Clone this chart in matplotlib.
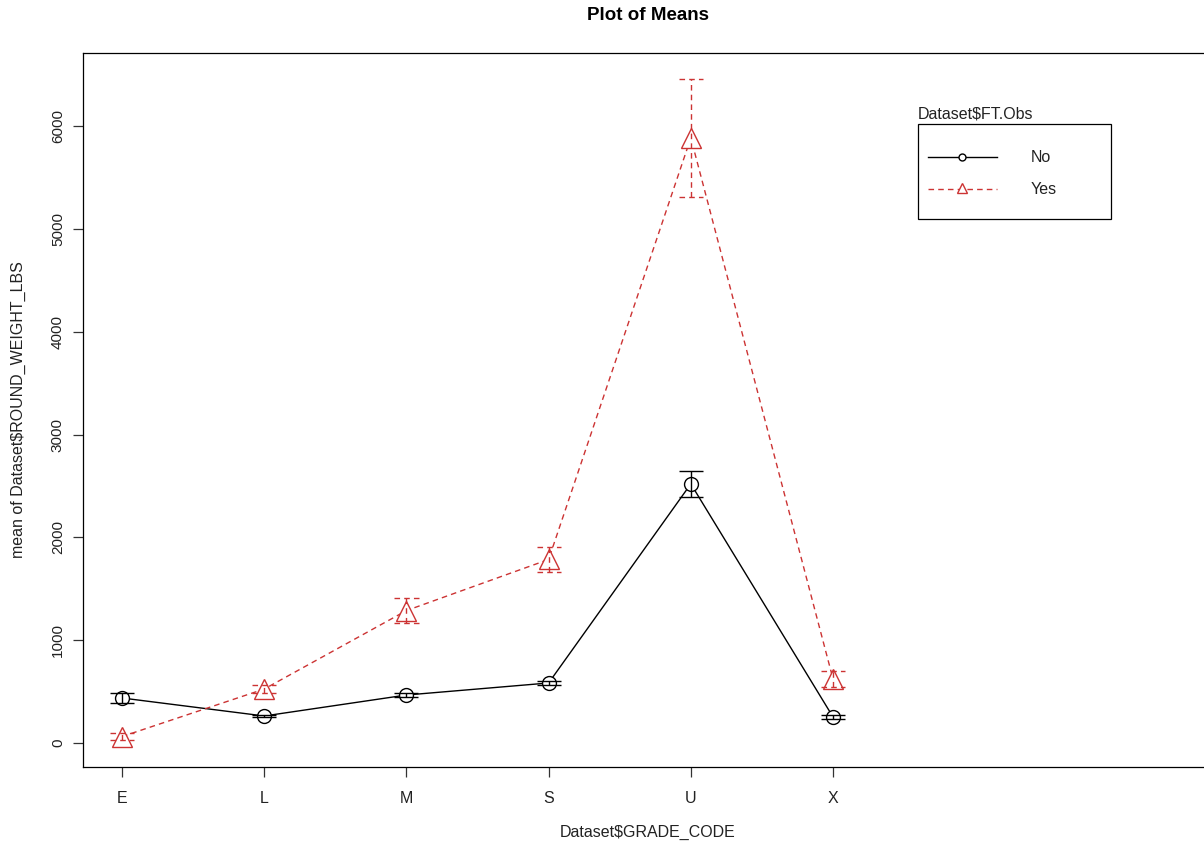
import matplotlib
matplotlib.use("Agg")
import matplotlib.pyplot as plt
from matplotlib.lines import Line2D
from matplotlib.patches import Rectangle

plt.rcParams['font.family'] = ['Liberation Sans', 'DejaVu Sans']

categories = ["E", "L", "M", "S", "U", "X"]
no_means = [438, 263, 467, 584, 2520, 253]
no_err = [48, 12, 18, 22, 126, 20]
yes_means = [63, 525, 1288, 1785, 5885, 622]
yes_err = [35, 40, 122, 122, 575, 78]
legend_title = "Dataset$FT.Obs"
legend_labels = ["No", "Yes"]

red = "#CC3333"
dash = (0, (4, 3))
W, H = 1204, 841
fig = plt.figure(figsize=(W / 100, H / 100), dpi=100)
ax = fig.add_axes([83 / W, 1 - 767 / H, (1215 - 83) / W, (767 - 53) / H])

x = list(range(1, len(categories) + 1))

# Lines
ax.plot(x, no_means, color="black", lw=1.0, zorder=2)
ax.plot(x, yes_means, color=red, lw=1.0, ls=dash, zorder=2)

# Markers (white-filled to mimic type="b" gaps)
ax.plot(x, no_means, ls="none", marker="o", ms=10, mfc="white", mec="black", mew=1.0, zorder=3)
ax.plot(x, yes_means, ls="none", marker="^", ms=14, mfc="white", mec=red, mew=1.0, zorder=3)

# Error bars
ax.errorbar(x, no_means, yerr=no_err, fmt="none", ecolor="black", elinewidth=1.0,
            capsize=8.7, capthick=1.0, zorder=4)
eb2 = ax.errorbar(x, yes_means, yerr=yes_err, fmt="none", ecolor=red, elinewidth=1.0,
                  capsize=0, zorder=4)
for c in eb2[2]:
    c.set_linestyle(dash)
cw = 0.085
for xi, m, e in zip(x, yes_means, yes_err):
    ax.hlines([m - e, m + e], xi - cw, xi + cw, colors=red, lw=1.0, linestyles=[dash], zorder=4)

ax.set_xlim(0.7257, 8.686)
ax.set_ylim(-233, 6710)
ax.set_xticks(x)
ax.set_xticklabels(categories, fontsize=11.5)
ax.set_yticks([0, 1000, 2000, 3000, 4000, 5000, 6000])
ax.set_yticklabels(["0", "1000", "2000", "3000", "4000", "5000", "6000"], fontsize=11,
                   rotation=90, va="center")
ax.tick_params(axis="both", length=7, width=0.9, color="#333333", labelcolor="#222222")
ax.tick_params(axis="x", pad=10)
ax.tick_params(axis="y", pad=6)
for s in ax.spines.values():
    s.set_linewidth(0.9)
ax.spines["right"].set_visible(False)

# Texts
fig.text(648 / W, 1 - 16 / H, "Plot of Means", ha="center", va="center",
         fontsize=13.5, fontweight="bold")
fig.text(648 / W, 1 - 832 / H, "Dataset$GRADE_CODE", ha="center", va="center",
         fontsize=11.5, color="#222222")
fig.text(18 / W, 1 - 410 / H, "mean of Dataset$ROUND_WEIGHT_LBS", ha="center", va="center",
         fontsize=11.5, rotation=90, color="#222222")

# Legend (manual)
fig.patches.append(Rectangle((918 / W, 1 - 219 / H), (1111 - 918) / W, (219 - 124) / H,
                             transform=fig.transFigure, fill=False, ec="black", lw=0.9))
fig.text(918 / W, 1 - 114 / H, legend_title, ha="left", va="center", fontsize=11.5, color="#222222")
fig.lines.append(Line2D([928 / W, 997 / W], [1 - 157 / H] * 2, transform=fig.transFigure,
                        color="black", lw=1.0))
fig.lines.append(Line2D([962 / W], [1 - 157 / H], transform=fig.transFigure, marker="o",
                        ms=5, mfc="white", mec="black", mew=1.0, ls="none"))
fig.lines.append(Line2D([928 / W, 997 / W], [1 - 189 / H] * 2, transform=fig.transFigure,
                        color=red, lw=1.0, ls=dash))
fig.lines.append(Line2D([962 / W], [1 - 188 / H], transform=fig.transFigure, marker="^",
                        ms=7, mfc="white", mec=red, mew=1.0, ls="none"))
fig.text(1031 / W, 1 - 158 / H, legend_labels[0], ha="left", va="center", fontsize=11.5, color="#222222")
fig.text(1031 / W, 1 - 190 / H, legend_labels[1], ha="left", va="center", fontsize=11.5, color="#222222")

fig.savefig("out.png", dpi=100)
